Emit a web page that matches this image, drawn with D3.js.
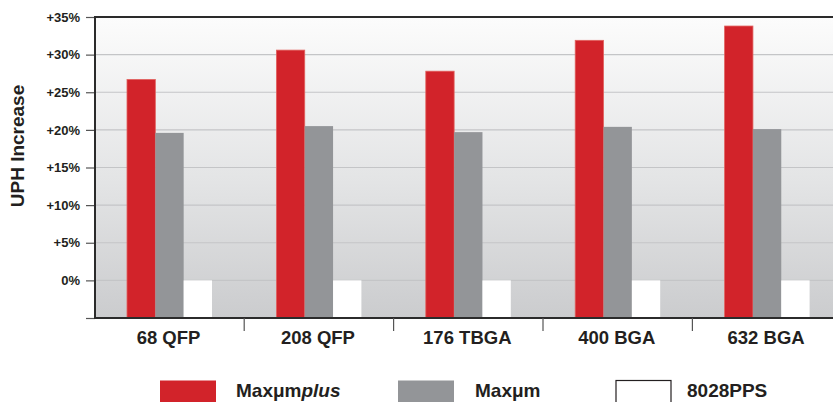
<!DOCTYPE html>
<html>
<head>
<meta charset="utf-8">
<script src="https://cdnjs.cloudflare.com/ajax/libs/d3/7.8.5/d3.min.js"></script>
<style>
  body { margin: 0; background: #fff; }
  svg text { font-family: "Liberation Sans", Arial, Helvetica, sans-serif; font-weight: bold; fill: #231f20; }
</style>
</head>
<body>
<div id="chart"></div>
<script>
// data
var categories = ["68 QFP", "208 QFP", "176 TBGA", "400 BGA", "632 BGA"];
var seriesNames = ["Maxμmplus", "Maxμm", "8028PPS"];
var maxumPlus = [26.7, 30.6, 27.8, 31.9, 33.8];
var maxum = [19.6, 20.5, 19.7, 20.4, 20.1];
var pps8028 = [0, 0, 0, 0, 0];
var yTicks = [-5, 0, 5, 10, 15, 20, 25, 30, 35];
var yTickLabels = ["", "0%", "+5%", "+10%", "+15%", "+20%", "+25%", "+30%", "+35%"];

var colors = ["#d2232a", "#939598", "#ffffff"];

var width = 833, height = 402;
var plot = { left: 95, top: 17, right: 833, bottom: 318 };

var svg = d3.select("#chart").append("svg")
    .attr("width", width)
    .attr("height", height);

var defs = svg.append("defs");
var grad = defs.append("linearGradient")
    .attr("id", "bg")
    .attr("x1", 0).attr("y1", 0).attr("x2", 0).attr("y2", 1);
grad.append("stop").attr("offset", "0%").attr("stop-color", "#fcfcfc");
grad.append("stop").attr("offset", "55%").attr("stop-color", "#e3e4e5");
grad.append("stop").attr("offset", "100%").attr("stop-color", "#cbccce");

var y = d3.scaleLinear()
    .domain([-5, 35])
    .range([plot.bottom, plot.top]);

var x0 = d3.scaleBand()
    .domain(categories)
    .range([94.8, 841.8]);

var x1 = d3.scaleBand()
    .domain(seriesNames)
    .range([32.2, 117.2]);

// plot background
svg.append("rect")
    .attr("x", plot.left)
    .attr("y", plot.top)
    .attr("width", plot.right - plot.left)
    .attr("height", plot.bottom - plot.top)
    .attr("fill", "url(#bg)");

// gridlines
svg.append("g")
    .selectAll("line")
    .data(yTicks.filter(function(d) { return d > -5 && d < 35; }))
    .enter().append("line")
    .attr("x1", plot.left)
    .attr("x2", plot.right)
    .attr("y1", function(d) { return y(d); })
    .attr("y2", function(d) { return y(d); })
    .attr("stroke", "#c4c5c7")
    .attr("stroke-width", 1.2);

// bars
var rows = categories.map(function(c, i) {
  return { cat: c, vals: [maxumPlus[i], maxum[i], pps8028[i]] };
});

var groups = svg.append("g").selectAll("g")
    .data(rows)
    .enter().append("g")
    .attr("transform", function(d) { return "translate(" + x0(d.cat) + ",0)"; });

groups.selectAll("rect")
    .data(function(d) {
      return d.vals.map(function(v, j) { return { name: seriesNames[j], value: v, idx: j }; });
    })
    .enter().append("rect")
    .attr("x", function(d) { return x1(d.name); })
    .attr("width", x1.bandwidth())
    .attr("y", function(d) { return y(d.value); })
    .attr("height", function(d) { return y(-5) - y(d.value); })
    .attr("fill", function(d) { return colors[d.idx]; })
    .attr("stroke", function(d) { return d.idx === 0 ? "#e2625f" : "none"; })
    .attr("stroke-width", 0.8);

// y axis
var yAxis = d3.axisLeft(y)
    .tickValues(yTicks)
    .tickSize(9)
    .tickPadding(6)
    .tickFormat(function(d, i) { return yTickLabels[i]; });

var gy = svg.append("g")
    .attr("transform", "translate(" + plot.left + ",0)")
    .call(yAxis);
gy.select(".domain").remove();
gy.selectAll(".tick line").attr("stroke", "#555").attr("stroke-width", 1.2);
gy.selectAll(".tick text")
    .style("font-size", "13px")
    .attr("fill", "#231f20");

// frame lines
svg.append("line")
    .attr("x1", plot.left).attr("x2", plot.left)
    .attr("y1", plot.top - 1).attr("y2", plot.bottom + 1)
    .attr("stroke", "#2b2b2b").attr("stroke-width", 2);
svg.append("line")
    .attr("x1", plot.left - 1).attr("x2", plot.right)
    .attr("y1", plot.top).attr("y2", plot.top)
    .attr("stroke", "#2b2b2b").attr("stroke-width", 2);
svg.append("line")
    .attr("x1", plot.left - 1).attr("x2", plot.right)
    .attr("y1", plot.bottom).attr("y2", plot.bottom)
    .attr("stroke", "#2b2b2b").attr("stroke-width", 2);

// category separators and labels
svg.append("g").selectAll("line")
    .data(categories.slice(1))
    .enter().append("line")
    .attr("x1", function(d) { return x0(d); })
    .attr("x2", function(d) { return x0(d); })
    .attr("y1", plot.bottom)
    .attr("y2", plot.bottom + 13)
    .attr("stroke", "#555")
    .attr("stroke-width", 1.2);

svg.append("g").selectAll("text")
    .data(categories)
    .enter().append("text")
    .attr("x", function(d) { return x0(d) + x0.bandwidth() / 2 - 1; })
    .attr("y", 344)
    .attr("text-anchor", "middle")
    .style("font-size", "18.5px")
    .text(function(d) { return d; });

// y axis title
svg.append("text")
    .attr("transform", "translate(24,146) rotate(-90)")
    .attr("text-anchor", "middle")
    .style("font-size", "19px")
    .text("UPH Increase");

// legend
var legend = [
  { x: 160, w: 56, fill: colors[0], stroke: "none", tx: 236, name: "Maxμm", ital: "plus" },
  { x: 398, w: 56, fill: colors[1], stroke: "none", tx: 475, name: "Maxμm", ital: "" },
  { x: 616, w: 55, fill: colors[2], stroke: "#231f20", tx: 687, name: "8028PPS", ital: "" }
];

var lg = svg.append("g").selectAll("g")
    .data(legend)
    .enter().append("g");

lg.append("rect")
    .attr("x", function(d) { return d.x; })
    .attr("y", 380.5)
    .attr("width", function(d) { return d.w; })
    .attr("height", 30)
    .attr("fill", function(d) { return d.fill; })
    .attr("stroke", function(d) { return d.stroke; })
    .attr("stroke-width", 1.2);

var lt = lg.append("text")
    .attr("x", function(d) { return d.tx; })
    .attr("y", 397)
    .style("font-size", "19px");
lt.append("tspan").text(function(d) { return d.name; });
lt.append("tspan")
    .style("font-style", "italic")
    .text(function(d) { return d.ital; });
</script>
</body>
</html>
